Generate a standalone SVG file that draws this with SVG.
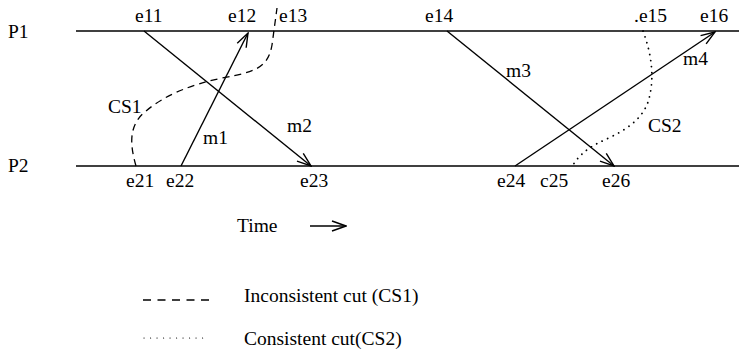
<svg xmlns="http://www.w3.org/2000/svg" width="739" height="358" viewBox="0 0 739 358" font-family="'Liberation Serif', 'DejaVu Serif', serif" font-size="19.5">
<style>
text{font-family:'Liberation Serif','DejaVu Serif',serif;font-size:19.5px;fill:#000}
.ln{stroke:#000;stroke-width:1.6;fill:none}
.msg{stroke:#000;stroke-width:1.4;fill:none;marker-end:url(#ah)}
.dash{stroke:#000;stroke-width:1.3;fill:none;stroke-dasharray:7,5}
.dot{stroke:#000;stroke-width:1.8;fill:none;stroke-dasharray:0.1,6;stroke-linecap:round}
</style>
<defs>
<marker id="ah" viewBox="0 0 16 12" refX="15" refY="6" markerWidth="16" markerHeight="12" markerUnits="userSpaceOnUse" orient="auto">
<path d="M1,1 L15,6 L1,11" fill="none" stroke="#000" stroke-width="1.4"/>
</marker>
</defs>
<g id="P1">
<text x="8" y="38">P1</text>
<line class="ln" x1="76" y1="31" x2="739" y2="31"/>
</g>
<g id="P2">
<text x="8" y="172">P2</text>
<line class="ln" x1="76" y1="166" x2="739" y2="166"/>
</g>
<g id="events">
<text x="135" y="22">e11</text>
<text x="228" y="22">e12</text>
<text x="279" y="22">e13</text>
<text x="425" y="22">e14</text>
<text x="634" y="22">.e15</text>
<text x="700" y="22">e16</text>
<text x="126" y="187">e21</text>
<text x="166" y="187">e22</text>
<text x="300" y="187">e23</text>
<text x="497" y="187">e24</text>
<text x="540" y="187">c25</text>
<text x="602" y="187">e26</text>
</g>
<g id="connectors">
<line class="msg" x1="144" y1="31" x2="311" y2="166"/>
<line class="msg" x1="181" y1="166" x2="248" y2="33"/>
<line class="msg" x1="447" y1="31" x2="614" y2="166"/>
<line class="msg" x1="515" y1="166" x2="715" y2="32"/>
<path class="dash" d="M136,166 C130,145 128,125 146,111 C165,95 190,85 222,78 C255,72 268,68 272,45 L277,8"/>
<path class="dot" d="M643,31 C652,55 655,80 648,102 C640,125 615,135 598,143 C585,150 578,157 573,165"/>
</g>
<g id="labels">
<text x="108" y="113">CS1</text>
<text x="203" y="144">m1</text>
<text x="287" y="132">m2</text>
<text x="506" y="77">m3</text>
<text x="683" y="65">m4</text>
<text x="648" y="132">CS2</text>
</g>
<g id="time">
<text x="237" y="232">Time</text>
<line class="ln" x1="310" y1="226" x2="346" y2="226" style="marker-end:url(#ah);stroke-width:1.3"/>
</g>
<g id="legend">
<line class="dash" x1="143" y1="300" x2="210" y2="300" style="stroke-dasharray:8,6.5"/>
<text x="244" y="302">Inconsistent cut (CS1)</text>
<line class="dot" x1="144" y1="338" x2="208" y2="338" style="stroke-width:1.2;stroke-dasharray:0.1,6.4"/>
<text x="244" y="345">Consistent cut(CS2)</text>
</g>
</svg>
